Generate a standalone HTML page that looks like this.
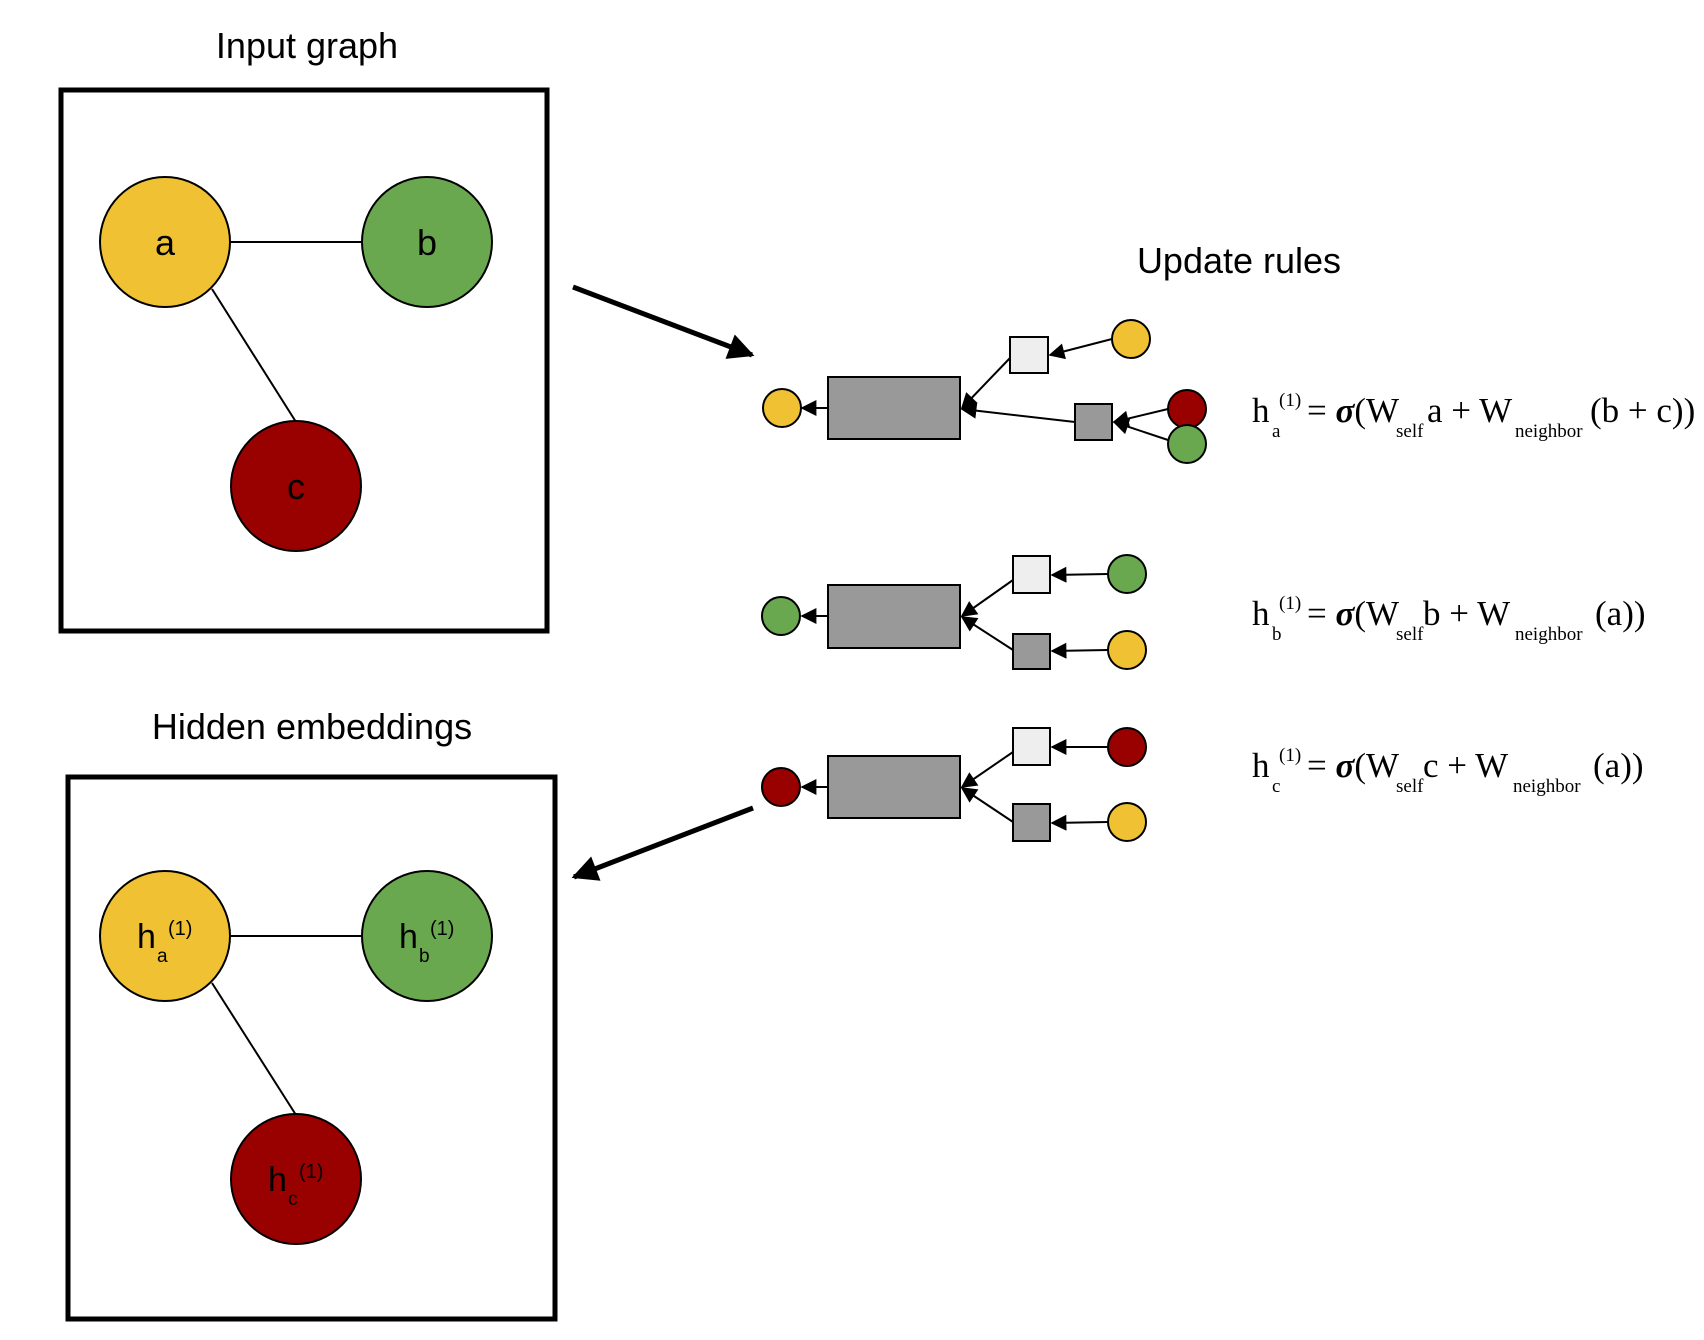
<!DOCTYPE html>
<html><head><meta charset="utf-8"><style>html,body{margin:0;padding:0;background:#fff}svg{display:block}</style></head>
<body>
<svg width="1704" height="1340" viewBox="0 0 1704 1340" xmlns="http://www.w3.org/2000/svg">
<defs>
<marker id="sm" viewBox="0 0 10 10" refX="9" refY="5" markerWidth="20" markerHeight="16" markerUnits="userSpaceOnUse" orient="auto"><path d="M0,0 L10,5 L0,10 z" fill="#000"/></marker>
<marker id="big" viewBox="0 0 10 10" refX="9" refY="5" markerWidth="36" markerHeight="26" markerUnits="userSpaceOnUse" orient="auto"><path d="M0,0 L10,5 L0,10 z" fill="#000"/></marker>
</defs>
<g font-family="Liberation Sans, sans-serif" fill="#000">
<text x="307" y="58" font-size="36" text-anchor="middle">Input graph</text>
<text x="312" y="739" font-size="36" text-anchor="middle">Hidden embeddings</text>
<text x="1239" y="273" font-size="36" text-anchor="middle">Update rules</text>
</g>
<rect x="61" y="90" width="486" height="541" fill="none" stroke="#000" stroke-width="5"/>
<rect x="68" y="777" width="487" height="542" fill="none" stroke="#000" stroke-width="5"/>
<g stroke="#000" stroke-width="2">
<line x1="165" y1="242" x2="427" y2="242"/><line x1="212" y1="289" x2="296" y2="422"/>
<line x1="165" y1="936" x2="427" y2="936"/><line x1="212" y1="983" x2="296" y2="1115"/>
<circle cx="165" cy="242" r="65" fill="#f0c233"/><circle cx="427" cy="242" r="65" fill="#6aa84f"/><circle cx="296" cy="486" r="65" fill="#990000"/>
<circle cx="165" cy="936" r="65" fill="#f0c233"/><circle cx="427" cy="936" r="65" fill="#6aa84f"/><circle cx="296" cy="1179" r="65" fill="#990000"/>
</g>
<g font-family="Liberation Sans, sans-serif" font-size="36" text-anchor="middle">
<text x="165" y="255">a</text><text x="427" y="255">b</text><text x="296" y="499">c</text>
</g>
<g font-family="Liberation Sans, sans-serif">
<text x="137" y="948" font-size="34">h</text><text x="157" y="962" font-size="19">a</text><text x="168" y="935" font-size="20">(1)</text>
<text x="399" y="948" font-size="34">h</text><text x="419" y="962" font-size="19">b</text><text x="430" y="935" font-size="20">(1)</text>
<text x="268" y="1191" font-size="34">h</text><text x="288" y="1205" font-size="19">c</text><text x="299" y="1178" font-size="20">(1)</text>
</g>
<line x1="573" y1="287" x2="752" y2="355" stroke="#000" stroke-width="5" marker-end="url(#big)"/>
<line x1="753" y1="808" x2="574" y2="877" stroke="#000" stroke-width="5" marker-end="url(#big)"/>
<g stroke="#000" stroke-width="2">
<line x1="1112" y1="339" x2="1050" y2="355" marker-end="url(#sm)"/>
<line x1="1010" y1="358" x2="962" y2="408" marker-end="url(#sm)"/>
<line x1="1075" y1="422" x2="962" y2="409" marker-end="url(#sm)"/>
<line x1="1168" y1="409" x2="1114" y2="422" marker-end="url(#sm)"/>
<line x1="1168" y1="440" x2="1114" y2="422" marker-end="url(#sm)"/>
<line x1="828" y1="408" x2="802" y2="408" marker-end="url(#sm)"/>
<rect x="828" y="377" width="132" height="62" fill="#999"/>
<rect x="1010" y="337" width="38" height="36" fill="#eee"/>
<rect x="1075" y="404" width="37" height="36" fill="#999"/>
<circle cx="782" cy="408" r="19" fill="#f0c233"/>
<circle cx="1131" cy="339" r="19" fill="#f0c233"/>
<circle cx="1187" cy="409" r="19" fill="#990000"/>
<circle cx="1187" cy="444" r="19" fill="#6aa84f"/>
<line x1="1108" y1="574" x2="1052" y2="575" marker-end="url(#sm)"/>
<line x1="1108" y1="650" x2="1052" y2="651" marker-end="url(#sm)"/>
<line x1="1013" y1="580" x2="962" y2="616" marker-end="url(#sm)"/>
<line x1="1013" y1="650" x2="962" y2="617" marker-end="url(#sm)"/>
<line x1="828" y1="616" x2="802" y2="616" marker-end="url(#sm)"/>
<rect x="828" y="585" width="132" height="63" fill="#999"/>
<rect x="1013" y="556" width="37" height="37" fill="#eee"/>
<rect x="1013" y="634" width="37" height="35" fill="#999"/>
<circle cx="781" cy="616" r="19" fill="#6aa84f"/>
<circle cx="1127" cy="574" r="19" fill="#6aa84f"/>
<circle cx="1127" cy="650" r="19" fill="#f0c233"/>
<line x1="1108" y1="747" x2="1052" y2="747" marker-end="url(#sm)"/>
<line x1="1108" y1="822" x2="1052" y2="823" marker-end="url(#sm)"/>
<line x1="1013" y1="752" x2="962" y2="787" marker-end="url(#sm)"/>
<line x1="1013" y1="822" x2="962" y2="788" marker-end="url(#sm)"/>
<line x1="828" y1="787" x2="802" y2="787" marker-end="url(#sm)"/>
<rect x="828" y="756" width="132" height="62" fill="#999"/>
<rect x="1013" y="728" width="37" height="37" fill="#eee"/>
<rect x="1013" y="804" width="37" height="37" fill="#999"/>
<circle cx="781" cy="787" r="19" fill="#990000"/>
<circle cx="1127" cy="747" r="19" fill="#990000"/>
<circle cx="1127" cy="822" r="19" fill="#f0c233"/>
</g>
<g font-family="Liberation Serif, serif" fill="#000">
<text x="1252" y="422" font-size="35">h</text><text x="1272" y="437" font-size="19">a</text><text x="1279" y="406" font-size="19">(1)</text>
<text x="1307" y="422" font-size="35">= <tspan font-weight="bold" font-style="italic">σ</tspan>(W</text><text x="1396" y="437" font-size="19">self</text>
<text x="1427" y="422" font-size="35">a + W</text><text x="1515" y="437" font-size="19">neighbor</text><text x="1590" y="422" font-size="35">(b + c))</text>
<text x="1252" y="625" font-size="35">h</text><text x="1272" y="640" font-size="19">b</text><text x="1279" y="609" font-size="19">(1)</text>
<text x="1307" y="625" font-size="35">= <tspan font-weight="bold" font-style="italic">σ</tspan>(W</text><text x="1396" y="640" font-size="19">self</text>
<text x="1423" y="625" font-size="35">b + W</text><text x="1515" y="640" font-size="19">neighbor</text><text x="1595" y="625" font-size="35">(a))</text>
<text x="1252" y="777" font-size="35">h</text><text x="1272" y="792" font-size="19">c</text><text x="1279" y="761" font-size="19">(1)</text>
<text x="1307" y="777" font-size="35">= <tspan font-weight="bold" font-style="italic">σ</tspan>(W</text><text x="1396" y="792" font-size="19">self</text>
<text x="1423" y="777" font-size="35">c + W</text><text x="1513" y="792" font-size="19">neighbor</text><text x="1593" y="777" font-size="35">(a))</text>
</g>
</svg>
</body></html>
